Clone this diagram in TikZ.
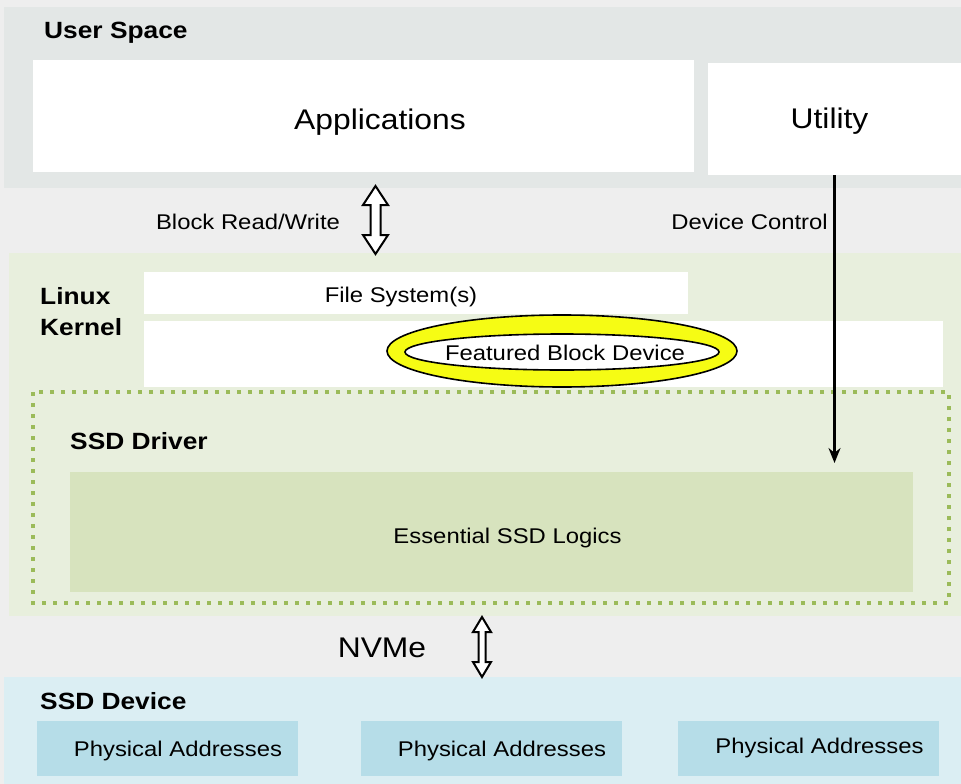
\documentclass[tikz,border=0pt]{standalone}
\usepackage{fontspec}
\setmainfont{Liberation Sans}[FakeStretch=1.12]
\usetikzlibrary{shapes.geometric,arrows.meta}

\definecolor{pagebg}{HTML}{EEEEEE}
\definecolor{userbg}{HTML}{E3E7E6}
\definecolor{kernelbg}{HTML}{E8EFDD}
\definecolor{logicbg}{HTML}{D7E3BE}
\definecolor{dotgreen}{HTML}{9BBB59}
\definecolor{devicebg}{HTML}{DBEEF3}
\definecolor{physbg}{HTML}{B6DDE8}
\definecolor{ringyellow}{RGB}{246,252,20}

\newcommand\bodyfont{\fontsize{21.3}{25}\selectfont}
\newcommand\headfont{\fontsize{23.5}{31}\selectfont\bfseries}
\newcommand\bigfont{\fontsize{28.4}{33}\selectfont}

% hollow double-headed arrow: #1 top tip, #2 half head width,
% #3 half shaft width, #4 head length, #5 total length
\newcommand\hollowpair[5]{%
  \draw[hollow] (#1) -- ++(#2,#4) -- ++(#3-#2,0) -- ++(0,#5-2*#4)
    -- ++(#2-#3,0) -- ++(-#2,#4) -- ++(-#2,-#4) -- ++(#2-#3,0)
    -- ++(0,-#5+2*#4) -- ++(#3-#2,0) -- cycle;}

\tikzset{
  band/.style={rectangle, inner sep=0, draw=none},
  whitebox/.style={rectangle, inner sep=0, fill=white, draw=none},
  layertitle/.style={anchor=west, inner sep=0, font=\headfont},
  plain/.style={inner sep=0, font=\bodyfont},
  hollow/.style={draw=black, line width=2pt, fill=white, line join=miter},
  ctrlarrow/.style={draw=black, line width=2.2pt, -{Stealth[length=15pt, width=12pt]}},
  ringstyle/.style={ellipse, inner sep=0, draw=black, line width=1.6pt},
  physbox/.style={rectangle, inner sep=0, fill=physbg, minimum width=261pt, minimum height=55pt},
}

\begin{document}
\begin{tikzpicture}[x=1pt, y=-1pt]
\useasboundingbox (0,0) rectangle (961,784);
\fill[pagebg] (0,0) rectangle (961,784);

% user space layer
\node[band, fill=userbg, minimum width=957pt, minimum height=181pt] (user) at (482.5,97.5) {};
\node[layertitle] (usertitle) at (44,33) {User Space};
\node[whitebox, minimum width=661pt, minimum height=112pt,
      label={[font=\bigfont, xshift=16.5pt, yshift=-6pt]center:Applications}] (apps) at (363.5,116) {};
\node[whitebox, minimum width=253pt, minimum height=112pt,
      label={[font=\bigfont, xshift=-5pt, yshift=-2pt]center:Utility}] (util) at (834.5,119) {};

% kernel layer
\node[band, fill=kernelbg, minimum width=952pt, minimum height=363pt] (kernel) at (485,434.5) {};
\node[layertitle, align=left] (kerneltitle) at (40,311.5) {Linux\\Kernel};
\node[whitebox, minimum width=544pt, minimum height=42pt,
      label={[font=\bodyfont, xshift=-15pt, yshift=-4pt]center:File System(s)}] (fs) at (416,293) {};
\node[whitebox, minimum width=799pt, minimum height=66pt] (fbd) at (543.5,354) {};
\node[ringstyle, fill=ringyellow, minimum width=350pt, minimum height=72pt] (ring) at (562,351) {};
\node[ringstyle, fill=white, minimum width=314pt, minimum height=36pt] (fbdcore) at (562,352) {};
\node[plain] (fbdlabel) at (565,353) {Featured Block Device};

% SSD driver
\draw[dotgreen, line width=4pt, dash pattern=on 4pt off 7pt] (33,392) rectangle (949,603);
\node[layertitle] (drivertitle) at (70,441) {SSD Driver};
\node[band, fill=logicbg, minimum width=843pt, minimum height=120pt,
      label={[font=\bodyfont, xshift=16pt, yshift=-6pt]center:Essential SSD Logics}] (logic) at (491.5,532) {};

% SSD device layer
\node[band, fill=devicebg, minimum width=957pt, minimum height=107pt] (device) at (482.5,730.5) {};
\node[layertitle] (devicetitle) at (40,701) {SSD Device};
\node[physbox, label={[font=\bodyfont, xshift=11pt, yshift=-2pt]center:Physical Addresses}] (phys1) at (167,748.5) {};
\node[physbox, label={[font=\bodyfont, xshift=11pt, yshift=-2pt]center:Physical Addresses}] (phys2) at (491,748.5) {};
\node[physbox, label={[font=\bodyfont, xshift=11pt, yshift=1pt]center:Physical Addresses}] (phys3) at (808.5,748.5) {};

% interfaces between layers
\node[plain] (rwlabel) at (248,222) {Block Read/Write};
\coordinate (rwtop) at (375.5,186);
\hollowpair{rwtop}{12.5}{5}{19}{68}

\node[plain] (ctrllabel) at (749.5,222) {Device Control};
\coordinate (ctrlend) at (834.5,463);
\draw[ctrlarrow] (util.south) -- (ctrlend);

\node[inner sep=0, font=\bigfont] (nvmelabel) at (382,648) {NVMe};
\coordinate (nvmetop) at (482,617);
\hollowpair{nvmetop}{9}{3.5}{15}{60}
\end{tikzpicture}
\end{document}
